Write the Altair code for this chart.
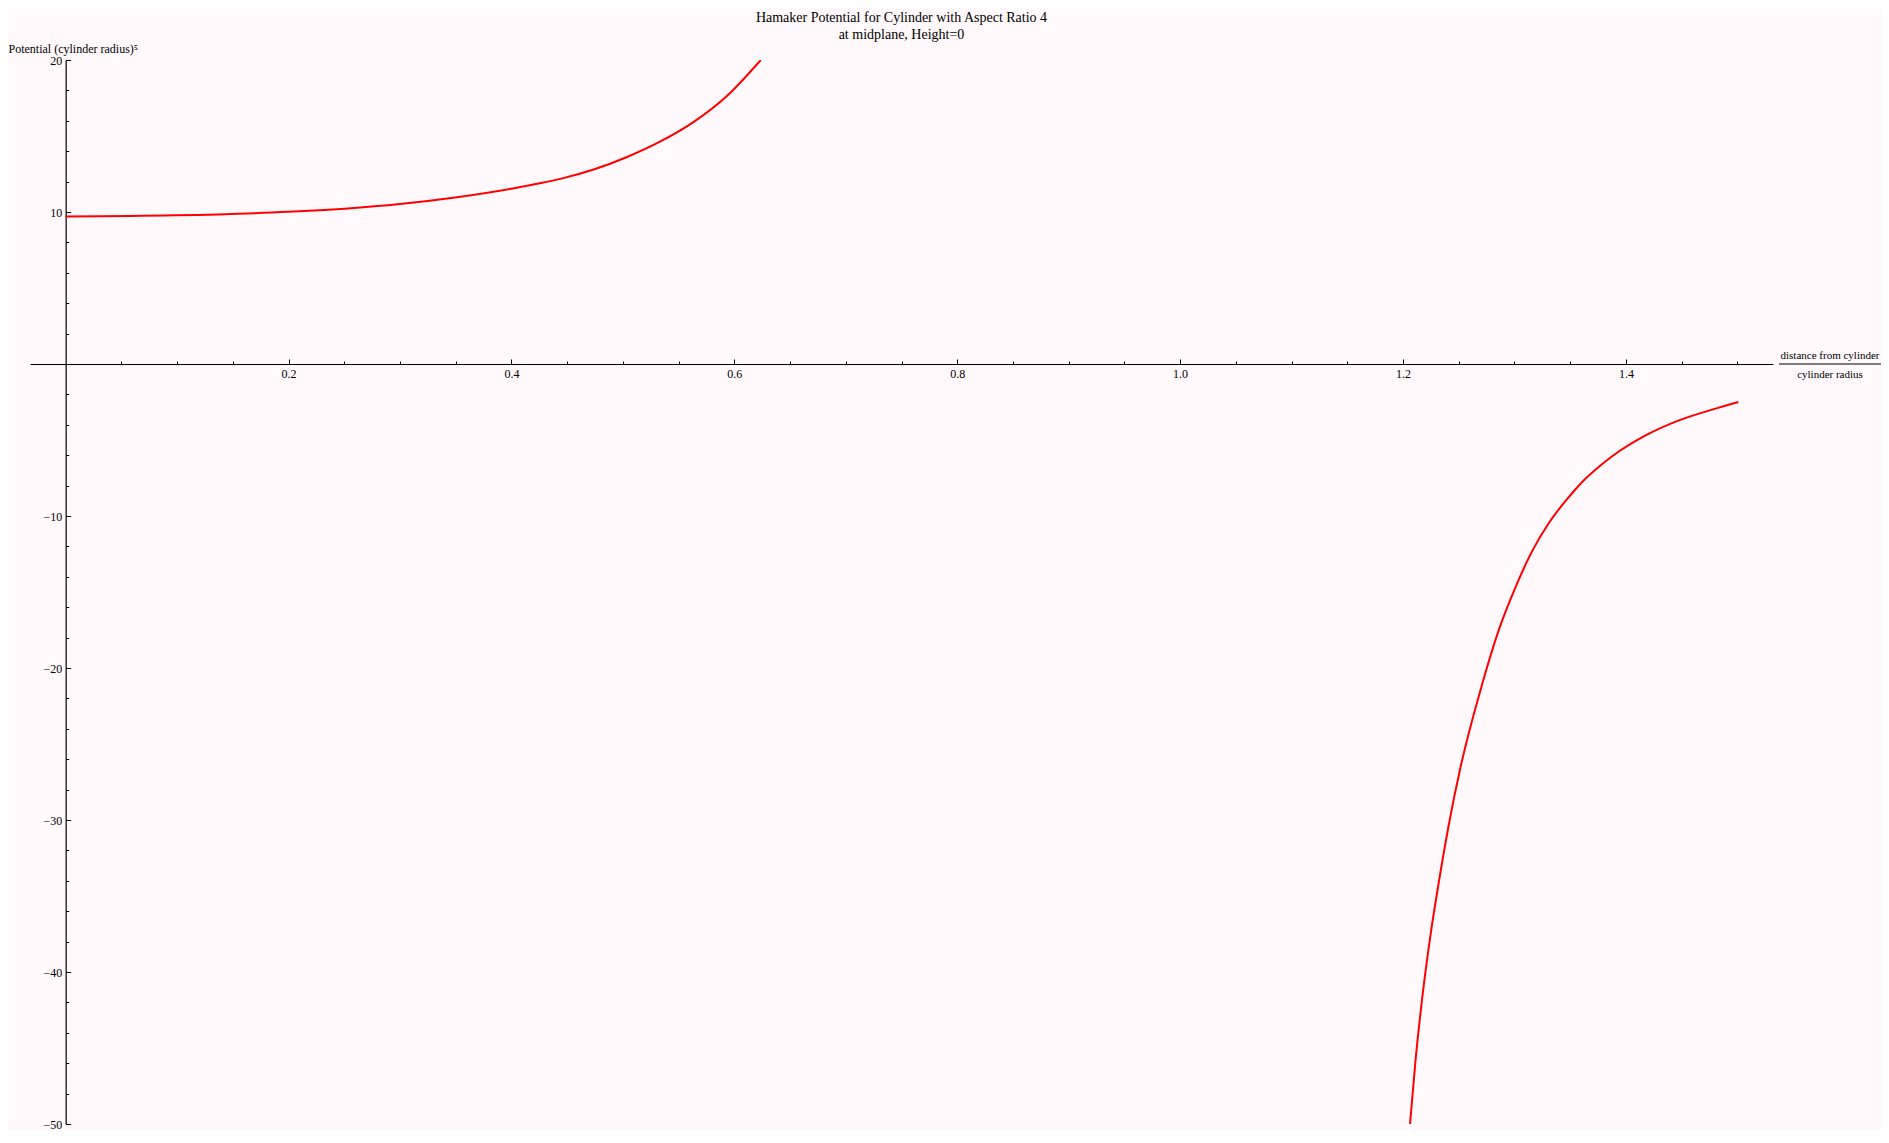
import altair as alt
import pandas as pd

# ---- data ----
branch1_x = [0.0, 0.0978, 0.1996, 0.2504, 0.2999, 0.3494, 0.4001, 0.4278, 0.4438, 0.4738,
             0.5038, 0.5337, 0.5636, 0.5936, 0.6237]
branch1_y = [9.70, 9.78, 10.01, 10.22, 10.52, 10.95, 11.53, 11.92, 12.18, 12.80,
             13.62, 14.64, 15.93, 17.65, 20.0]

branch2_x = [1.2063, 1.2111, 1.2171, 1.2246, 1.2321, 1.2411, 1.2514, 1.2709, 1.2859,
             1.3009, 1.3159, 1.3309, 1.3459, 1.3608, 1.3758, 1.3877, 1.4177, 1.4476, 1.4775, 1.5009]
branch2_y = [-50.0, -45.92, -41.80, -37.60, -34.10, -30.31, -26.60, -21.10, -17.51,
             -14.69, -12.31, -10.46, -9.01, -7.76, -6.76, -6.07, -4.70, -3.71, -3.00, -2.50]

title_lines = ["Hamaker Potential for Cylinder with Aspect Ratio 4", "at midplane, Height=0"]
y_title = "Potential (cylinder radius)\u2075"
x_title = ["distance from cylinder", "cylinder radius"]

x_domain = [-0.032, 1.532]
y_domain = [-50, 20]

df = pd.DataFrame({
    "x": branch1_x + branch2_x,
    "y": branch1_y + branch2_y,
    "branch": ["a"] * len(branch1_x) + ["b"] * len(branch2_x),
})

# ---- layout ----
W, H = 1743, 1064
PAD_L, PAD_T = 22, 52
x0px = (0 - x_domain[0]) / (x_domain[1] - x_domain[0]) * W
y0px = (y_domain[1] - 0) / (y_domain[1] - y_domain[0]) * H

FONT = "Liberation Serif"

x_ticks = [round(0.05 * i, 2) for i in range(1, 31)]
y_ticks = [v for v in range(-50, 21, 2) if v != 0]

x_major = "abs(datum.value*5 - round(datum.value*5)) < 1e-6"
y_major = "abs(datum.value/10 - round(datum.value/10)) < 1e-6"

x_axis = alt.Axis(
    orient="top", offset=-y0px, values=x_ticks, grid=False,
    labelExpr=f"{x_major} ? format(datum.value, '.1f') : ''",
    labelBaseline="top", labelPadding=-9, labelOverlap=False, labelFlush=False,
    labelFont=FONT, labelFontSize=12, labelColor="black",
    tickSize={"condition": {"test": x_major, "value": 5}, "value": 3},
    tickColor="black", tickWidth=1, domainColor="black", domainWidth=1.2,
    title=x_title, titleFont=FONT, titleFontSize=11, titleFontWeight="normal", titleColor="black",
    titleX=1829.5 - 8 - PAD_L, titleY=-6, titleAlign="center", titleBaseline="alphabetic",
    titleLineHeight=19, titleAngle=0,
)

y_axis = alt.Axis(
    orient="right", offset=x0px - W, values=y_ticks, grid=False,
    labelExpr=f"{y_major} ? format(datum.value, 'd') : ''",
    labelAlign="right", labelBaseline="middle", labelPadding=-9, labelOverlap=False, labelFlush=False,
    labelFont=FONT, labelFontSize=12, labelColor="black",
    tickSize={"condition": {"test": y_major, "value": 5}, "value": 3},
    tickColor="black", tickWidth=1, domainColor="black", domainWidth=1.2,
    title=y_title, titleFont=FONT, titleFontSize=12, titleFontWeight="normal", titleColor="black",
    titleAngle=0, titleAlign="left", titleBaseline="alphabetic", titleX=-PAD_L - x0px, titleY=-8,
)

lines = alt.Chart(df).mark_line(color="#FF0000", strokeWidth=2, clip=True, interpolate="monotone").encode(
    x=alt.X("x:Q", scale=alt.Scale(domain=x_domain, nice=False, zero=False), axis=x_axis),
    y=alt.Y("y:Q", scale=alt.Scale(domain=y_domain, nice=False, zero=False), axis=y_axis),
    detail="branch:N",
)

# fraction bar of the x-axis title
frac = alt.Chart(pd.DataFrame({"k": [0]})).mark_rule(color="black", strokeWidth=1).encode(
    x=alt.value(1779 - 8 - PAD_L), x2=alt.value(1881 - 8 - PAD_L), y=alt.value(y0px)
)

chart = alt.layer(lines, frac).properties(
    width=W, height=H,
    padding={"left": PAD_L, "top": PAD_T, "right": 108, "bottom": 6},
    autosize=alt.AutoSizeParams(type="none"),
    title=alt.TitleParams(
        text=title_lines, font=FONT, fontSize=14, fontWeight="normal", color="black",
        anchor="middle", offset=0, lineHeight=17,
    ),
).configure(background="#FFF9FB").configure_view(strokeOpacity=0)

chart.save("out.html", embed_options={"renderer": "svg", "actions": False})
